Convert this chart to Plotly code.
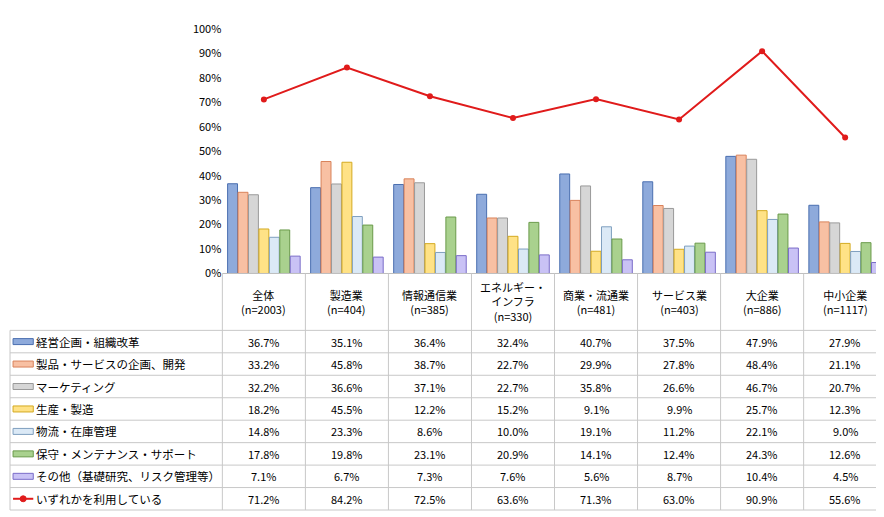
import plotly.graph_objects as go

categories = ["全体<br>(n=2003)", "製造業<br>(n=404)", "情報通信業<br>(n=385)", "エネルギー・<br>インフラ<br>(n=330)",
              "商業・流通業<br>(n=481)", "サービス業<br>(n=403)", "大企業<br>(n=886)", "中小企業<br>(n=1117)"]
series_names = ["経営企画・組織改革", "製品・サービスの企画、開発", "マーケティング", "生産・製造",
                "物流・在庫管理", "保守・メンテナンス・サポート", "その他（基礎研究、リスク管理等）"]
s1 = [36.7, 35.1, 36.4, 32.4, 40.7, 37.5, 47.9, 27.9]
s2 = [33.2, 45.8, 38.7, 22.7, 29.9, 27.8, 48.4, 21.1]
s3 = [32.2, 36.6, 37.1, 22.7, 35.8, 26.6, 46.7, 20.7]
s4 = [18.2, 45.5, 12.2, 15.2, 9.1, 9.9, 25.7, 12.3]
s5 = [14.8, 23.3, 8.6, 10.0, 19.1, 11.2, 22.1, 9.0]
s6 = [17.8, 19.8, 23.1, 20.9, 14.1, 12.4, 24.3, 12.6]
s7 = [7.1, 6.7, 7.3, 7.6, 5.6, 8.7, 10.4, 4.5]
line_name = "いずれかを利用している"
line_vals = [71.2, 84.2, 72.5, 63.6, 71.3, 63.0, 90.9, 55.6]

fills = ["#8eaadb", "#f8c0a3", "#d6d6d6", "#ffe286", "#dbe9f6", "#a9d18e", "#c9c2f5"]
borders = ["#4a6fb0", "#d9825a", "#9a9a9a", "#d4aa20", "#7f9fbf", "#6a9a4a", "#7a6cc8"]

W, H = 884, 517
def px(x): return ((x - 8) / 0.989) / W
def py(y): return 1 - ((y - 16) / 0.971) / H
x0, x1 = 220, 877
colw = (x1 - x0) / 8
ytop, ybot = 28, 273

fig = go.Figure()
all_series = [s1, s2, s3, s4, s5, s6, s7]
xs = list(range(8))
for name, vals, f, b in zip(series_names, all_series, fills, borders):
    fig.add_trace(go.Bar(x=xs, y=vals, name=name, marker=dict(color=f, line=dict(color=b, width=1))))
fig.add_trace(go.Scatter(x=xs, y=line_vals, name=line_name, mode="lines+markers",
                         line=dict(color="#e01b1b", width=2), marker=dict(color="#e01b1b", size=6)))

fig.update_layout(
    width=W, height=H, margin=dict(l=0, r=0, t=0, b=0), plot_bgcolor="white", paper_bgcolor="white",
    showlegend=False, barmode="group", bargap=0.12, bargroupgap=0.05,
    font=dict(family="Noto Sans CJK JP", size=11, color="#000"),
    xaxis=dict(domain=[px(x0), px(x1)], range=[-0.5, 7.5], showticklabels=False, showgrid=False,
               zeroline=False, showline=False),
    yaxis=dict(domain=[py(ybot), py(ytop)], range=[0, 100], dtick=10, ticksuffix="%",
               showgrid=False, zeroline=False, showline=False, tickfont=dict(size=11), ticks=""),
)

shapes = []
line_style = dict(color="#c8c8c8", width=1)
table_bot = 510
hdr_bot = 330
rows_y = [hdr_bot + i * (table_bot - hdr_bot) / 8 for i in range(9)]
shapes.append(dict(type="line", xref="paper", yref="paper", x0=px(x0), x1=px(x1), y0=py(ybot), y1=py(ybot), line=dict(color="#bfbfbf", width=1)))
for i in range(9):
    xv = x0 + i * colw
    shapes.append(dict(type="line", xref="paper", yref="paper", x0=px(xv), x1=px(xv), y0=py(ybot), y1=py(table_bot), line=line_style))
shapes.append(dict(type="line", xref="paper", yref="paper", x0=px(10), x1=px(10), y0=py(hdr_bot), y1=py(table_bot), line=line_style))
for yv in rows_y:
    shapes.append(dict(type="line", xref="paper", yref="paper", x0=px(10), x1=px(x1), y0=py(yv), y1=py(yv), line=line_style))

annotations = []
for i, c in enumerate(categories):
    annotations.append(dict(xref="paper", yref="paper", x=px(x0 + (i + 0.5) * colw), y=py((ybot + hdr_bot) / 2),
                            text=c, showarrow=False, font=dict(size=11), xanchor="center", yanchor="middle"))
row_names = series_names + [line_name]
row_vals = all_series + [line_vals]
for r, (nm, vals) in enumerate(zip(row_names, row_vals)):
    yc = (rows_y[r] + rows_y[r + 1]) / 2
    if r < 7:
        shapes.append(dict(type="rect", xref="paper", yref="paper", x0=px(13), x1=px(33), y0=py(yc + 3), y1=py(yc - 3),
                           fillcolor=fills[r], line=dict(color=borders[r], width=1)))
    else:
        shapes.append(dict(type="line", xref="paper", yref="paper", x0=px(13), x1=px(33), y0=py(yc), y1=py(yc),
                           line=dict(color="#e01b1b", width=2)))
        shapes.append(dict(type="circle", xref="paper", yref="paper", x0=px(20), x1=px(26), y0=py(yc + 3), y1=py(yc - 3),
                           fillcolor="#e01b1b", line=dict(color="#e01b1b", width=1)))
    annotations.append(dict(xref="paper", yref="paper", x=px(34), y=py(yc), text=nm, showarrow=False,
                            xanchor="left", yanchor="middle", font=dict(size=11.5)))
    for i, v in enumerate(vals):
        annotations.append(dict(xref="paper", yref="paper", x=px(x0 + (i + 0.5) * colw), y=py(yc),
                                text=f"{v:.1f}%", showarrow=False, xanchor="center", yanchor="middle", font=dict(size=11)))

fig.update_layout(shapes=shapes, annotations=annotations)
fig.write_html("out.html")
